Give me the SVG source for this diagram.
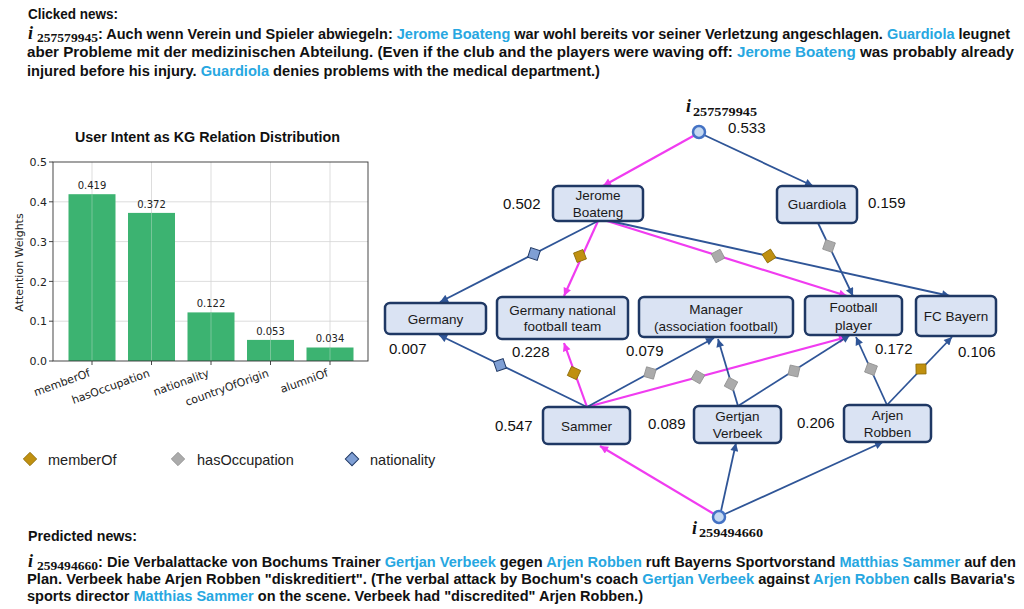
<svg xmlns="http://www.w3.org/2000/svg" xmlns:xlink="http://www.w3.org/1999/xlink" width="1024" height="609" viewBox="0 0 1024 609">
  <style>
    .news { font-family: "Liberation Sans", Arial, sans-serif; font-weight: bold; font-size: 14.5px; fill: #111; }
    .hl { fill: #27a7e1; }
    .mi { font-family: "Liberation Serif", "DejaVu Serif", serif; font-weight: bold; font-style: italic; font-size: 18px; fill: #111; }
    .ms { font-family: "Liberation Serif", "DejaVu Serif", serif; font-weight: bold; font-size: 13.5px; fill: #111; }
    .ctitle { font-family: "Liberation Sans", Arial, sans-serif; font-weight: bold; font-size: 14px; fill: #111; }
    .tick { font-family: "DejaVu Sans", sans-serif; font-size: 11px; fill: #222; }
    .barval { font-family: "DejaVu Sans", sans-serif; font-size: 10px; fill: #222; text-anchor: middle; }
    .grid { stroke: #d4d4d4; stroke-width: 0.8; }
    .bar { fill: #3cb371; }
    .leg { font-family: "Liberation Sans", Arial, sans-serif; font-size: 14.5px; fill: #222; }
    .box { fill: #dae3f3; stroke: #1f3864; stroke-width: 2.5; }
    .nl { font-family: "Liberation Sans", Arial, sans-serif; font-size: 13.5px; fill: #1a1a1a; text-anchor: middle; }
    .val { font-family: "Liberation Sans", Arial, sans-serif; font-size: 15px; fill: #111; }
    .item { fill: #c5d9f1; stroke: #4472c4; stroke-width: 2.5; }
    .eb { fill: none; stroke: #2f5597; stroke-width: 1.8; marker-end: url(#ah-blue); }
    .ep { fill: none; stroke: #f03cf0; stroke-width: 2.2; marker-end: url(#ah-pink); }
    .d-mem { fill: #c09010; stroke: #8a6a08; stroke-width: 0.8; }
    .d-occ { fill: #ababab; stroke: #909090; stroke-width: 0.8; }
    .d-nat { fill: #7f9fd4; stroke: #1f3864; stroke-width: 1; }
  </style>
  <defs>
    <marker id="ah-blue" viewBox="0 0 10 10" refX="10" refY="5" markerWidth="9" markerHeight="8" markerUnits="userSpaceOnUse" orient="auto">
      <path d="M0,0 L10,5 L0,10 z" fill="#2f5597"/>
    </marker>
    <marker id="ah-pink" viewBox="0 0 10 10" refX="10" refY="5" markerWidth="9" markerHeight="8" markerUnits="userSpaceOnUse" orient="auto">
      <path d="M0,0 L10,5 L0,10 z" fill="#f03cf0"/>
    </marker>
    <rect id="sq" x="-5" y="-5" width="10" height="10"/>
  </defs>

  <rect width="1024" height="609" fill="#ffffff"/>

  <!-- clicked news paragraph -->
  <g id="clicked-news">
    <text class="news" x="28" y="19" textLength="90" lengthAdjust="spacingAndGlyphs">Clicked news:</text>
    <text class="mi" x="28" y="39">i</text>
    <text class="ms" x="37" y="42" textLength="61" lengthAdjust="spacingAndGlyphs">257579945</text>
    <text class="news" x="98" y="39" textLength="912" lengthAdjust="spacingAndGlyphs">: Auch wenn Verein und Spieler abwiegeln: <tspan class="hl">Jerome Boateng</tspan> war wohl bereits vor seiner Verletzung angeschlagen. <tspan class="hl">Guardiola</tspan> leugnet</text>
    <text class="news" x="27" y="57" textLength="987" lengthAdjust="spacingAndGlyphs">aber Probleme mit der medizinischen Abteilung. (Even if the club and the players were waving off: <tspan class="hl">Jerome Boateng</tspan> was probably already</text>
    <text class="news" x="27" y="76" textLength="573" lengthAdjust="spacingAndGlyphs">injured before his injury. <tspan class="hl">Guardiola</tspan> denies problems with the medical department.)</text>
  </g>

  <!-- predicted news paragraph -->
  <g id="predicted-news">
    <text class="news" x="28" y="541" textLength="109" lengthAdjust="spacingAndGlyphs">Predicted news:</text>
    <text class="mi" x="28" y="567">i</text>
    <text class="ms" x="37" y="570" textLength="61" lengthAdjust="spacingAndGlyphs">259494660</text>
    <text class="news" x="98" y="567" textLength="918" lengthAdjust="spacingAndGlyphs">: Die Verbalattacke von Bochums Trainer <tspan class="hl">Gertjan Verbeek</tspan> gegen <tspan class="hl">Arjen Robben</tspan> ruft Bayerns Sportvorstand <tspan class="hl">Matthias Sammer</tspan> auf den</text>
    <text class="news" x="27" y="584" textLength="988" lengthAdjust="spacingAndGlyphs">Plan. Verbeek habe Arjen Robben "diskreditiert". (The verbal attack by Bochum's coach <tspan class="hl">Gertjan Verbeek</tspan> against <tspan class="hl">Arjen Robben</tspan> calls Bavaria's</text>
    <text class="news" x="27" y="601" textLength="616" lengthAdjust="spacingAndGlyphs">sports director <tspan class="hl">Matthias Sammer</tspan> on the scene. Verbeek had "discredited" Arjen Robben.)</text>
  </g>

  <!-- bar chart: relation attention weights -->
  <g id="chart">
    <text class="ctitle" x="75" y="142" textLength="265" lengthAdjust="spacingAndGlyphs">User Intent as KG Relation Distribution</text>
    <!-- grid -->
    <g class="grid">
      <line x1="53" y1="321.2" x2="368" y2="321.2"/>
      <line x1="53" y1="281.4" x2="368" y2="281.4"/>
      <line x1="53" y1="241.6" x2="368" y2="241.6"/>
      <line x1="53" y1="201.8" x2="368" y2="201.8"/>
      <line x1="92" y1="162" x2="92" y2="361"/>
      <line x1="151.5" y1="162" x2="151.5" y2="361"/>
      <line x1="211" y1="162" x2="211" y2="361"/>
      <line x1="270.5" y1="162" x2="270.5" y2="361"/>
      <line x1="330" y1="162" x2="330" y2="361"/>
    </g>
    <!-- bars -->
    <rect class="bar" x="68.5" y="194.2" width="47" height="166.8"/>
    <rect class="bar" x="128" y="212.9" width="47" height="148.1"/>
    <rect class="bar" x="187.5" y="312.4" width="47" height="48.6"/>
    <rect class="bar" x="247" y="339.9" width="47" height="21.1"/>
    <rect class="bar" x="306.5" y="347.5" width="47" height="13.5"/>
    <!-- grid drawn over bars (light) -->
    <g stroke="#9fd3b5" stroke-width="0.6">
      <line x1="92" y1="194.2" x2="92" y2="361"/>
      <line x1="151.5" y1="212.9" x2="151.5" y2="361"/>
      <line x1="211" y1="312.4" x2="211" y2="361"/>
      <line x1="270.5" y1="339.9" x2="270.5" y2="361"/>
      <line x1="330" y1="347.5" x2="330" y2="361"/>
    </g>
    <!-- frame and ticks -->
    <rect x="53" y="162" width="315" height="199" fill="none" stroke="#333" stroke-width="0.9"/>
    <g stroke="#333" stroke-width="0.9">
      <line x1="49" y1="361" x2="53" y2="361"/>
      <line x1="49" y1="321.2" x2="53" y2="321.2"/>
      <line x1="49" y1="281.4" x2="53" y2="281.4"/>
      <line x1="49" y1="241.6" x2="53" y2="241.6"/>
      <line x1="49" y1="201.8" x2="53" y2="201.8"/>
      <line x1="49" y1="162" x2="53" y2="162"/>
      <line x1="92" y1="361" x2="92" y2="365"/>
      <line x1="151.5" y1="361" x2="151.5" y2="365"/>
      <line x1="211" y1="361" x2="211" y2="365"/>
      <line x1="270.5" y1="361" x2="270.5" y2="365"/>
      <line x1="330" y1="361" x2="330" y2="365"/>
    </g>
    <g class="tick" text-anchor="end">
      <text x="47" y="365">0.0</text>
      <text x="47" y="325">0.1</text>
      <text x="47" y="285.5">0.2</text>
      <text x="47" y="245.5">0.3</text>
      <text x="47" y="206">0.4</text>
      <text x="47" y="166">0.5</text>
    </g>
    <text class="tick" transform="translate(23,262.5) rotate(-90)" text-anchor="middle">Attention Weights</text>
    <g class="barval">
      <text x="92" y="189">0.419</text>
      <text x="151.5" y="207.5">0.372</text>
      <text x="211" y="307">0.122</text>
      <text x="270.5" y="334.5">0.053</text>
      <text x="330" y="342">0.034</text>
    </g>
    <g class="tick" text-anchor="end">
      <text transform="translate(91,376) rotate(-20)">memberOf</text>
      <text transform="translate(150.5,376) rotate(-20)">hasOccupation</text>
      <text transform="translate(210,376) rotate(-20)">nationality</text>
      <text transform="translate(269.5,376) rotate(-20)">countryOfOrigin</text>
      <text transform="translate(329,376) rotate(-20)">alumniOf</text>
    </g>
  </g>

  <!-- relation legend -->
  <g id="legend">
    <use xlink:href="#sq" class="d-mem" transform="translate(30,459) rotate(45) scale(0.95)"/>
    <text class="leg" x="48" y="465">memberOf</text>
    <use xlink:href="#sq" class="d-occ" transform="translate(178,459) rotate(45) scale(0.95)"/>
    <text class="leg" x="197" y="465">hasOccupation</text>
    <use xlink:href="#sq" class="d-nat" transform="translate(352,459) rotate(45) scale(0.95)"/>
    <text class="leg" x="370" y="465">nationality</text>
  </g>

  <!-- connectors -->
  <g id="connectors">
    <!-- pink: attended paths -->
    <path class="ep" d="M695,135 L603,186"/>
    <path class="ep" d="M598,221 L564,296"/>
    <path class="ep" d="M607,221 L847,296"/>
    <path class="ep" d="M587,407 L564,343"/>
    <path class="ep" d="M587,407 L847,337"/>
    <path class="ep" d="M714,514 L600,446"/>
    <!-- blue: other paths -->
    <path class="eb" d="M704,135 L813,186"/>
    <path class="eb" d="M598,221 L440,302"/>
    <path class="eb" d="M610,221 L950,296"/>
    <path class="eb" d="M818,223 L853,296"/>
    <path class="eb" d="M587,407 L439,335"/>
    <path class="eb" d="M587,407 L714,338"/>
    <path class="eb" d="M738,406 L718,339"/>
    <path class="eb" d="M738,406 L850,335"/>
    <path class="eb" d="M887,405 L856,337"/>
    <path class="eb" d="M887,405 L952,337"/>
    <path class="eb" d="M721,511 L736,443"/>
    <path class="eb" d="M725,514 L883,442"/>
    <!-- relation markers on edges -->
    <use xlink:href="#sq" class="d-mem" transform="translate(580,256) rotate(159)"/>
    <use xlink:href="#sq" class="d-occ" transform="translate(718,256) rotate(62)"/>
    <use xlink:href="#sq" class="d-mem" transform="translate(574,373) rotate(-65)"/>
    <use xlink:href="#sq" class="d-occ" transform="translate(698,377) rotate(30)"/>
    <use xlink:href="#sq" class="d-nat" transform="translate(534,254) rotate(198)"/>
    <use xlink:href="#sq" class="d-mem" transform="translate(769,256) rotate(57)"/>
    <use xlink:href="#sq" class="d-occ" transform="translate(829,246) rotate(109)"/>
    <use xlink:href="#sq" class="d-nat" transform="translate(500,365) rotate(-109)"/>
    <use xlink:href="#sq" class="d-occ" transform="translate(650,373) rotate(16)"/>
    <use xlink:href="#sq" class="d-occ" transform="translate(731,384) rotate(-62)"/>
    <use xlink:href="#sq" class="d-occ" transform="translate(794,371) rotate(13)"/>
    <use xlink:href="#sq" class="d-occ" transform="translate(871,369) rotate(-70)"/>
    <use xlink:href="#sq" class="d-mem" transform="translate(921,369) rotate(-1)"/>
  </g>

  <!-- items -->
  <g id="item-clicked">
    <circle class="item" cx="699" cy="132" r="6"/>
    <text class="mi" x="686" y="112">i</text>
    <text class="ms" x="693" y="115.5" textLength="64" lengthAdjust="spacingAndGlyphs">257579945</text>
    <text class="val" x="728" y="132.5">0.533</text>
  </g>
  <g id="item-predicted">
    <circle class="item" cx="719" cy="517" r="6"/>
    <text class="mi" x="692" y="534">i</text>
    <text class="ms" x="699" y="537" textLength="64" lengthAdjust="spacingAndGlyphs">259494660</text>
  </g>

  <!-- entities -->
  <g id="jerome-boateng">
    <rect class="box" x="553" y="186" width="90" height="35" rx="5"/>
    <text class="nl" x="598" y="200">Jerome</text>
    <text class="nl" x="598" y="217">Boateng</text>
    <text class="val" x="503" y="208.5">0.502</text>
  </g>
  <g id="guardiola">
    <rect class="box" x="777" y="186" width="80" height="37" rx="5"/>
    <text class="nl" x="817" y="209">Guardiola</text>
    <text class="val" x="868" y="207.5">0.159</text>
  </g>
  <g id="germany">
    <rect class="box" x="385" y="303" width="101" height="31" rx="5"/>
    <text class="nl" x="435.5" y="324">Germany</text>
    <text class="val" x="389" y="353.5">0.007</text>
  </g>
  <g id="germany-national-football-team">
    <rect class="box" x="497" y="297" width="131" height="42" rx="5"/>
    <text class="nl" x="562.5" y="315">Germany national</text>
    <text class="nl" x="562.5" y="331">football team</text>
    <text class="val" x="512" y="356.5">0.228</text>
  </g>
  <g id="manager">
    <rect class="box" x="639" y="297" width="154" height="40" rx="5"/>
    <text class="nl" x="716" y="313.5">Manager</text>
    <text class="nl" x="716" y="331">(association football)</text>
    <text class="val" x="626" y="355.5">0.079</text>
  </g>
  <g id="football-player">
    <rect class="box" x="805" y="296" width="97" height="39" rx="5"/>
    <text class="nl" x="853.5" y="311.5">Football</text>
    <text class="nl" x="853.5" y="329.5">player</text>
    <text class="val" x="875" y="353.5">0.172</text>
  </g>
  <g id="fc-bayern">
    <rect class="box" x="916" y="296" width="80" height="40" rx="5"/>
    <text class="nl" x="956" y="321">FC Bayern</text>
    <text class="val" x="958" y="357">0.106</text>
  </g>
  <g id="sammer">
    <rect class="box" x="543" y="407" width="87" height="37" rx="5"/>
    <text class="nl" x="586.5" y="430.5">Sammer</text>
    <text class="val" x="495" y="430.5">0.547</text>
  </g>
  <g id="gertjan-verbeek">
    <rect class="box" x="694" y="406" width="87" height="37" rx="5"/>
    <text class="nl" x="737.5" y="421">Gertjan</text>
    <text class="nl" x="737.5" y="438">Verbeek</text>
    <text class="val" x="648" y="428.5">0.089</text>
  </g>
  <g id="arjen-robben">
    <rect class="box" x="844" y="405" width="87" height="37" rx="5"/>
    <text class="nl" x="887.5" y="419.5">Arjen</text>
    <text class="nl" x="887.5" y="437">Robben</text>
    <text class="val" x="797" y="428">0.206</text>
  </g>
</svg>
